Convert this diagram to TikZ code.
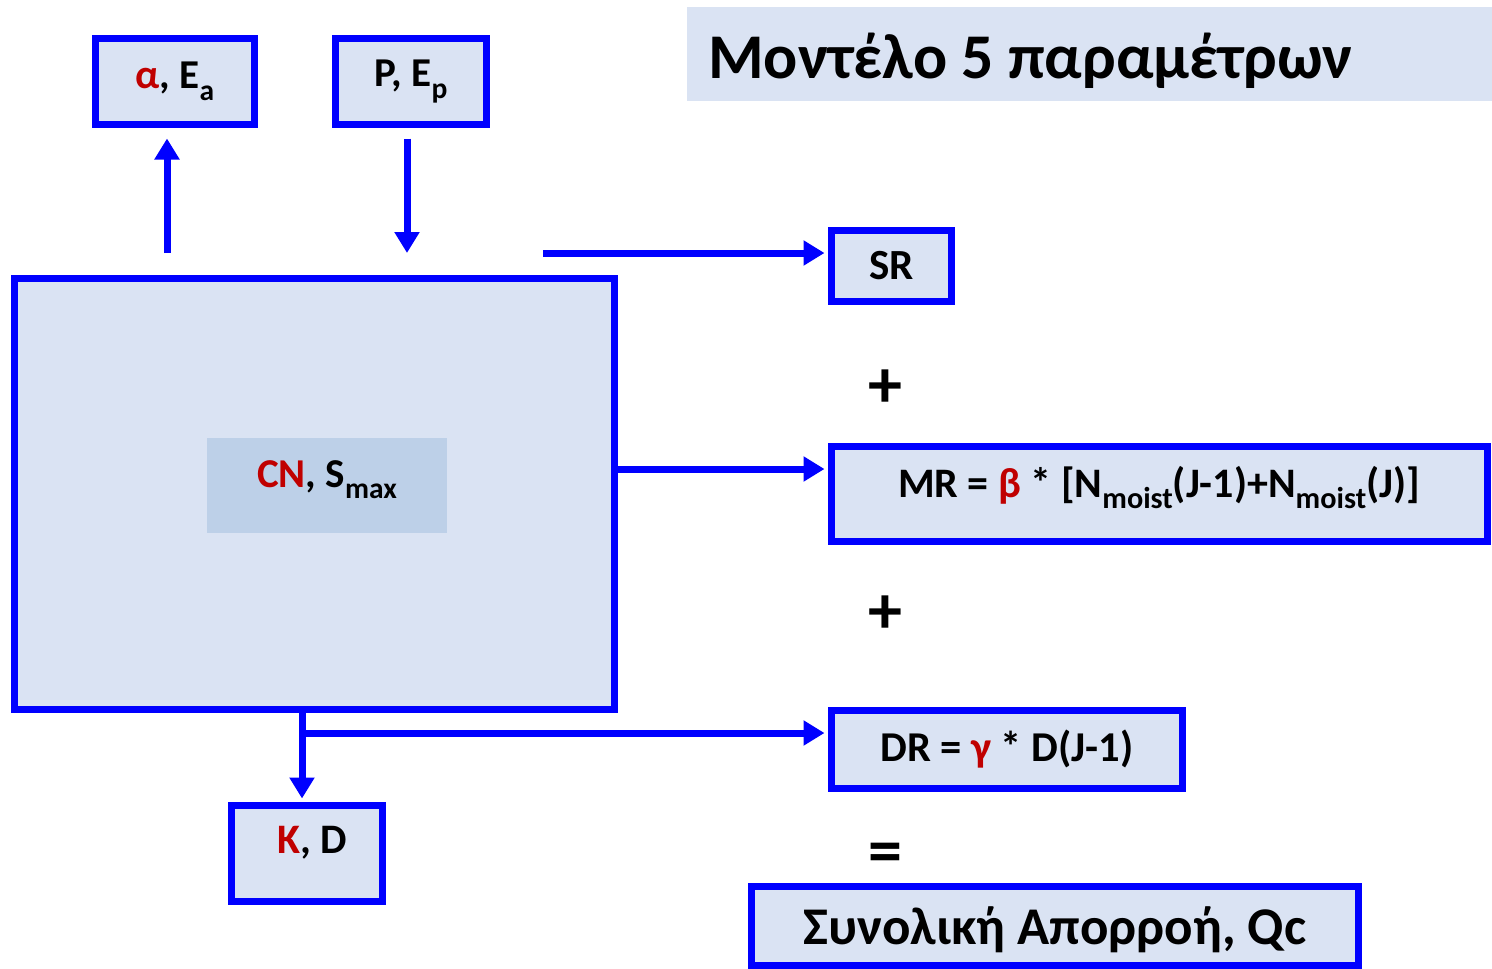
\documentclass[tikz,border=0pt]{standalone}
\usepackage{fontspec}
\setmainfont{Carlito}
\usetikzlibrary{arrows.meta}
\definecolor{bblue}{HTML}{0000FF}
\definecolor{bfill}{HTML}{DAE3F3}
\definecolor{cnfill}{HTML}{BDD0E8}
\definecolor{dred}{HTML}{C00000}
\newcommand\lowsub[1]{\raisebox{-0.28em}{\scalebox{0.72}{#1}}}
\tikzset{
  bx/.style={draw=bblue, line width=7pt, fill=bfill, inner sep=0pt},
  txt/.style={font=\bfseries\fontsize{#1}{#1}\selectfont, inner sep=0pt},
  txt/.default=42,
  con/.style={draw=bblue, line width=7pt, -{Triangle[length=21pt,width=24pt]}},
}
\begin{document}
\begin{tikzpicture}[x=1pt,y=-1pt]
\useasboundingbox (0,0) rectangle (1492,969);
% title
\fill[bfill] (687,7) rectangle (1492,101);
\node[txt=63.7, anchor=base west] (title) at (708,78) {Μοντέλο 5 παραμέτρων};
% top boxes
\node[bx, minimum width=159pt, minimum height=86pt, txt=41] (ea) at (175,81.5) {\textcolor{dred}{α}, E\lowsub{a}};
\node[bx, minimum width=151pt, minimum height=86pt, txt=41] (pe) at (411,81.5) {P, E\lowsub{p}};
% big box
\node[bx, minimum width=600pt, minimum height=431pt] (big) at (314.5,494) {};
\node[fill=cnfill, minimum width=240pt, minimum height=95pt, inner sep=0pt] (cn) at (327,485.5) {};
\node[txt=41, anchor=base] (cnt) at (327,487) {\textcolor{dred}{CN}, S\lowsub{max}};
% right boxes
\node[bx, minimum width=120pt, minimum height=71pt, txt=43] (sr) at (891.5,266) {SR};
\node[bx, minimum width=656pt, minimum height=95pt] (mr) at (1159.5,494) {};
\node[txt=42, anchor=base] (mrt) at (1159,497) {MR = \textcolor{dred}{β} * [N\lowsub{moist}(J-1)+N\lowsub{moist}(J)]};
\node[bx, minimum width=351pt, minimum height=78pt, txt=42.5] (dr) at (1007,749.5) {DR = \textcolor{dred}{γ} * D(J-1)};
\node[bx, minimum width=151pt, minimum height=96pt] (kd) at (307,853.5) {};
\node[txt=42] (kdt) at (312,843) {\textcolor{dred}{K}, D};
\node[bx, minimum width=607pt, minimum height=79pt] (qc) at (1055,926) {};
\node[txt=53, anchor=base] (qct) at (1055,944) {Συνολική Απορροή, Qc};
% operators
\node[txt=68] (plus1) at (885,389) {+};
\node[txt=68] (plus2) at (885,615) {+};
\node[txt=68] (eq) at (885,858) {=};
% connectors
\coordinate (u0) at (167,253);
\draw[con, shorten >=10.5pt] (u0) -- (u0 |- ea.south);
\coordinate (d1) at (407,253);
\draw[con, shorten <=10.5pt] (d1 |- pe.south) -- (d1);
\coordinate (s0) at (543,253);
\draw[con, shorten >=3.5pt] (s0) -- (s0 -| sr.west);
\draw[con, shorten >=3.5pt] ([yshift=25pt]big.east) -- ([yshift=25pt]big.east -| mr.west);
\coordinate (br) at (302,733);
\draw[con, shorten >=3.5pt] ([xshift=-12.5pt]big.south) -- (br |- kd.north);
\draw[con, shorten >=3.5pt] (br) -- (br -| dr.west);
\end{tikzpicture}
\end{document}
